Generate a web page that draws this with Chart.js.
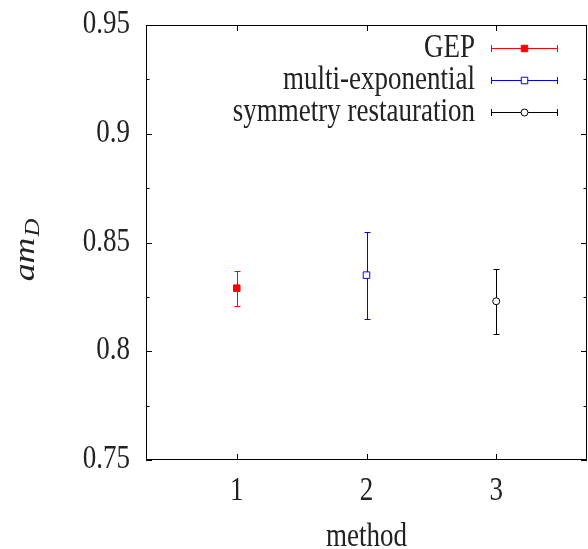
<!DOCTYPE html>
<html>
<head>
<meta charset="utf-8">
<script src="https://cdn.jsdelivr.net/npm/chart.js@4.4.0/dist/chart.umd.min.js"></script>
<style>
  html, body { margin: 0; padding: 0; background: #fff; overflow: hidden; }
  canvas { display: block; }
</style>
</head>
<body>
<canvas id="chart" width="588" height="549"></canvas>
<script>
// data
const methods = [1, 2, 3];
const seriesNames = ['GEP', 'multi-exponential', 'symmetry restauration'];
const values = [0.829, 0.835, 0.823];
const errors = [0.008, 0.020, 0.015];
const xTicks = [1, 2, 3];
const yTicks = [0.75, 0.8, 0.85, 0.9, 0.95];
const yMinorTicks = [0.775, 0.825, 0.875, 0.925];

const colors = ['#ff0000', '#0000ff', '#000000'];
const FONT = '"Liberation Serif", "Times New Roman", serif';
const STRETCH = 1.23; // the text in the picture is taller than it is wide

function stretchText(ctx, str, x, y, align, size) {
  ctx.save();
  ctx.font = size + 'px ' + FONT;
  ctx.textAlign = align;
  ctx.textBaseline = 'alphabetic';
  ctx.fillStyle = '#222';
  ctx.translate(x, y);
  ctx.scale(1, STRETCH);
  ctx.fillText(str, 0, 0);
  ctx.restore();
}

// gnuplot style frame, inward ticks, labels
const frame = {
  id: 'frame',
  afterDraw(chart) {
    const { ctx, chartArea: a, scales: { x, y } } = chart;
    ctx.save();
    ctx.strokeStyle = '#000';
    ctx.lineWidth = 1;
    ctx.strokeRect(a.left + 0.5, a.top + 0.5, a.right - a.left - 1, a.bottom - a.top - 1);
    ctx.beginPath();
    xTicks.forEach(v => {
      const px = Math.round(x.getPixelForValue(v)) + 0.5;
      ctx.moveTo(px, a.bottom); ctx.lineTo(px, a.bottom - 6);
      ctx.moveTo(px, a.top); ctx.lineTo(px, a.top + 6);
    });
    yTicks.forEach(v => {
      const py = Math.round(y.getPixelForValue(v)) + 0.5;
      ctx.moveTo(a.left, py); ctx.lineTo(a.left + 6, py);
      ctx.moveTo(a.right, py); ctx.lineTo(a.right - 6, py);
    });
    yMinorTicks.forEach(v => {
      const py = Math.round(y.getPixelForValue(v)) + 0.5;
      ctx.moveTo(a.left, py); ctx.lineTo(a.left + 3.5, py);
      ctx.moveTo(a.right, py); ctx.lineTo(a.right - 3.5, py);
    });
    ctx.stroke();
    ctx.restore();

    yTicks.forEach(v => {
      stretchText(ctx, String(v), 130, y.getPixelForValue(v) + 8, 'right', 27);
    });
    xTicks.forEach(v => {
      stretchText(ctx, String(v), x.getPixelForValue(v), 500, 'center', 27);
    });
    stretchText(ctx, 'method', (a.left + a.right) / 2, 546, 'center', 27);

    // y title: am_D, rotated
    ctx.save();
    ctx.fillStyle = '#222';
    ctx.font = 'italic 29px ' + FONT;
    const wAm = ctx.measureText('am').width;
    ctx.font = 'italic 20px ' + FONT;
    const wD = ctx.measureText('D').width;
    const total = (wAm + 1 + wD) * STRETCH;
    ctx.translate(34, 250 + total / 2);
    ctx.rotate(-Math.PI / 2);
    ctx.scale(STRETCH, 1);
    ctx.textBaseline = 'alphabetic';
    ctx.font = 'italic 29px ' + FONT;
    ctx.fillText('am', 0, 0);
    ctx.font = 'italic 20px ' + FONT;
    ctx.fillText('D', wAm + 1, 5);
    ctx.restore();
  }
};

// vertical error bars with caps
const errorBars = {
  id: 'errorBars',
  beforeDatasetsDraw(chart) {
    const { ctx, scales: { x, y } } = chart;
    ctx.save();
    ctx.lineWidth = 1;
    methods.forEach((m, i) => {
      const px = Math.round(x.getPixelForValue(m)) + 0.5;
      const top = Math.round(y.getPixelForValue(values[i] + errors[i])) + 0.5;
      const bot = Math.round(y.getPixelForValue(values[i] - errors[i])) + 0.5;
      ctx.strokeStyle = colors[i];
      ctx.beginPath();
      ctx.moveTo(px, top); ctx.lineTo(px, bot);
      ctx.moveTo(px - 3, top); ctx.lineTo(px + 3, top);
      ctx.moveTo(px - 3, bot); ctx.lineTo(px + 3, bot);
      ctx.stroke();
    });
    ctx.restore();
  }
};

// key in the top right corner
const key = {
  id: 'key',
  afterDraw(chart) {
    const { ctx, chartArea: a } = chart;
    chart.data.datasets.forEach((ds, i) => {
      const ly = Math.round(a.top + 23 + i * 32) + 0.5;
      stretchText(ctx, ds.label, 475, ly + 8, 'right', 27);
      const x0 = 491.5, x1 = 557.5, xm = 524.5;
      ctx.save();
      ctx.strokeStyle = colors[i];
      ctx.lineWidth = 1;
      ctx.beginPath();
      ctx.moveTo(x0, ly); ctx.lineTo(x1, ly);
      ctx.moveTo(x0, ly - 3.5); ctx.lineTo(x0, ly + 3.5);
      ctx.moveTo(x1, ly - 3.5); ctx.lineTo(x1, ly + 3.5);
      ctx.stroke();
      ctx.fillStyle = ds.pointBackgroundColor;
      ctx.strokeStyle = ds.pointBorderColor;
      Chart.helpers.drawPoint(ctx, {
        pointStyle: ds.pointStyle, radius: ds.pointRadius, rotation: 0, borderWidth: 1
      }, xm, ly);
      ctx.restore();
    });
  }
};

const pointStyles = ['rect', 'rect', 'circle'];
const pointFills = ['#ff0000', '#ffffff', '#ffffff'];
const pointSizes = [4.6, 4.6, 3.5];

const chart = new Chart(document.getElementById('chart'), {
  type: 'scatter',
  data: {
    datasets: seriesNames.map((name, i) => ({
      label: name,
      data: [{ x: methods[i], y: values[i] }],
      pointStyle: pointStyles[i],
      pointRadius: pointSizes[i],
      pointBackgroundColor: pointFills[i],
      pointBorderColor: colors[i],
      pointBorderWidth: 1
    }))
  },
  options: {
    responsive: false,
    animation: false,
    events: [],
    layout: { autoPadding: false, padding: { left: 146, top: 25, right: 1, bottom: 89 } },
    plugins: { legend: { display: false }, tooltip: { enabled: false } },
    scales: {
      x: { type: 'linear', min: 0.3, max: 3.7, display: false },
      y: { type: 'linear', min: 0.75, max: 0.95, display: false }
    }
  },
  plugins: [errorBars, frame, key]
});
</script>
</body>
</html>
